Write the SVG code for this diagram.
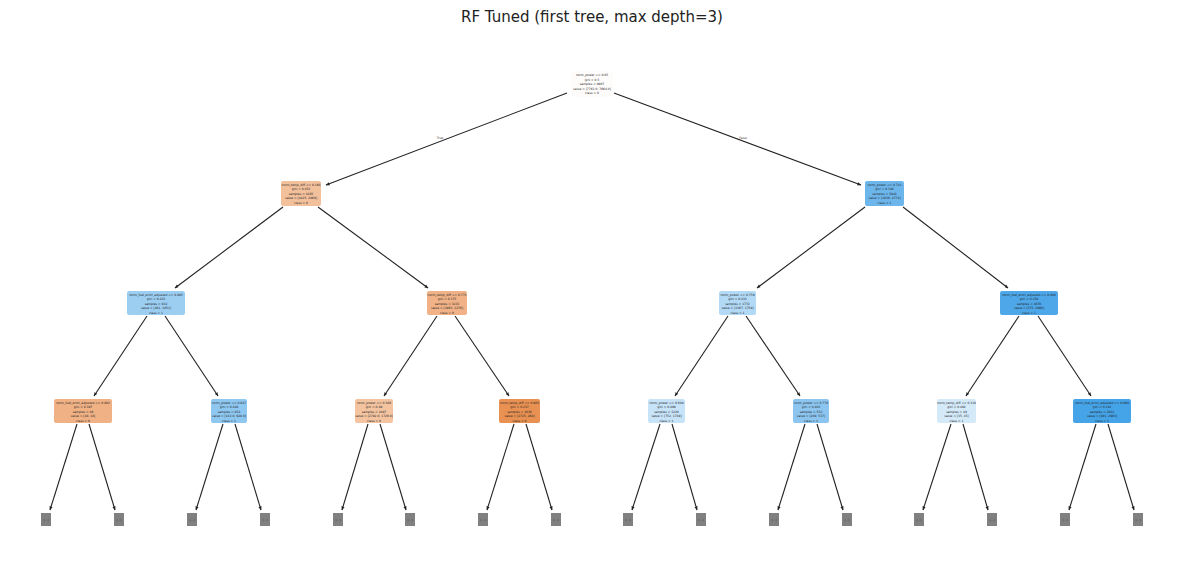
<svg xmlns="http://www.w3.org/2000/svg" width="1184" height="584" viewBox="0 0 1184 584">
<defs>
<marker id="ah" viewBox="0 0 10 10" refX="9" refY="5" markerWidth="4" markerHeight="4" orient="auto" markerUnits="userSpaceOnUse"><path d="M0,1 L10,5 L0,9 z" fill="#222"/></marker>
</defs>
<style>
.t{font-family:"DejaVu Sans",sans-serif;font-size:3px;fill:#222;text-anchor:middle}
.title{font-family:"DejaVu Sans",sans-serif;font-size:15px;fill:#222;text-anchor:middle}
.e{stroke:#222;stroke-width:1.1;fill:none;marker-end:url(#ah)}
.el{font-family:"DejaVu Sans",sans-serif;font-size:3px;fill:#333;text-anchor:middle}
.leaf{fill:#808080}
.lt{font-family:"DejaVu Sans",sans-serif;font-size:3px;fill:#222;text-anchor:middle}
</style>
<rect width="1184" height="584" fill="#fff"/>
<text class="title" x="592" y="22">RF Tuned (first tree, max depth=3)</text>
<g id="connectors">
<path class="e" d="M567,93 L326,185"/>
<path class="e" d="M614,93 L861,185"/>
<path class="e" d="M283,207 L175,288"/>
<path class="e" d="M318,207 L428,288"/>
<path class="e" d="M865,207 L757,288"/>
<path class="e" d="M903,207 L1008,288"/>
<path class="e" d="M147,316 L94,396"/>
<path class="e" d="M165,316 L218,396"/>
<path class="e" d="M437,316 L384,396"/>
<path class="e" d="M455,316 L509,396"/>
<path class="e" d="M728,316 L675,396"/>
<path class="e" d="M746,316 L800,396"/>
<path class="e" d="M1019,316 L966,396"/>
<path class="e" d="M1038,316 L1091,396"/>
<path class="e" d="M77,424 L50,510"/><path class="e" d="M89,424 L115,510"/>
<path class="e" d="M223,424 L196,510"/><path class="e" d="M235,424 L261,510"/>
<path class="e" d="M368,424 L342,510"/><path class="e" d="M380,424 L406,510"/>
<path class="e" d="M514,424 L487,510"/><path class="e" d="M526,424 L552,510"/>
<path class="e" d="M660,424 L632,510"/><path class="e" d="M672,424 L697,510"/>
<path class="e" d="M805,424 L778,510"/><path class="e" d="M817,424 L843,510"/>
<path class="e" d="M951,424 L923,510"/><path class="e" d="M963,424 L988,510"/>
<path class="e" d="M1096,424 L1069,510"/><path class="e" d="M1108,424 L1134,510"/>
<text class="el" x="440" y="139">True</text>
<text class="el" x="743" y="139">False</text>
</g>
<g id="n0"><rect x="571" y="71" width="42" height="26" rx="2" fill="#fefcfb"/>
<text class="t" x="592" y="76">norm_power &lt;= 0.05</text><text class="t" x="592" y="80.5">gini = 0.5</text><text class="t" x="592" y="85">samples = 9907</text><text class="t" x="592" y="89.5">value = [7763.0, 7664.0]</text><text class="t" x="592" y="94">class = 0</text></g>
<g id="n1"><rect x="281" y="181" width="40" height="25" rx="2" fill="#f3c09c"/>
<text class="t" x="301" y="185.5">norm_temp_diff &lt;= 0.160</text><text class="t" x="301" y="190">gini = 0.452</text><text class="t" x="301" y="194.5">samples = 4165</text><text class="t" x="301" y="199">value = [4425, 2869]</text><text class="t" x="301" y="203.5">class = 0</text></g>
<g id="n2"><rect x="865" y="181" width="39" height="25" rx="2" fill="#6db6ec"/>
<text class="t" x="884.5" y="185.5">norm_power &lt;= 0.741</text><text class="t" x="884.5" y="190">gini = 0.346</text><text class="t" x="884.5" y="194.5">samples = 5842</text><text class="t" x="884.5" y="199">value = [1936, 4774]</text><text class="t" x="884.5" y="203.5">class = 1</text></g>
<g id="n3"><rect x="127" y="291" width="58" height="24" rx="2" fill="#9ccef2"/>
<text class="t" x="156" y="295.5">norm_fuel_error_adjusted &lt;= 0.085</text><text class="t" x="156" y="300">gini = 0.423</text><text class="t" x="156" y="304.5">samples = 932</text><text class="t" x="156" y="309">value = [461, 1051]</text><text class="t" x="156" y="313.5">class = 1</text></g>
<g id="n4"><rect x="427" y="291" width="40" height="24" rx="2" fill="#f0b286"/>
<text class="t" x="447" y="295.5">norm_temp_diff &lt;= 0.771</text><text class="t" x="447" y="300">gini = 0.375</text><text class="t" x="447" y="304.5">samples = 3233</text><text class="t" x="447" y="309">value = [3963, 1276]</text><text class="t" x="447" y="313.5">class = 0</text></g>
<g id="n5"><rect x="719" y="291" width="37" height="24" rx="2" fill="#b2d9f5"/>
<text class="t" x="737.5" y="295.5">norm_power &lt;= 0.759</text><text class="t" x="737.5" y="300">gini = 0.433</text><text class="t" x="737.5" y="304.5">samples = 1772</text><text class="t" x="737.5" y="309">value = [1367, 1759]</text><text class="t" x="737.5" y="313.5">class = 1</text></g>
<g id="n6"><rect x="1000" y="291" width="58" height="24" rx="2" fill="#4ea7e8"/>
<text class="t" x="1029" y="295.5">norm_fuel_error_adjusted &lt;= 0.006</text><text class="t" x="1029" y="300">gini = 0.158</text><text class="t" x="1029" y="304.5">samples = 4070</text><text class="t" x="1029" y="309">value = [575, 2996]</text><text class="t" x="1029" y="313.5">class = 1</text></g>
<g id="n7"><rect x="54" y="399" width="58" height="24" rx="2" fill="#f0b185"/>
<text class="t" x="83" y="403.5">norm_fuel_error_adjusted &lt;= 0.002</text><text class="t" x="83" y="408">gini = 0.397</text><text class="t" x="83" y="412.5">samples = 46</text><text class="t" x="83" y="417">value = [48, 18]</text><text class="t" x="83" y="421.5">class = 0</text></g>
<g id="n8"><rect x="211" y="399" width="36" height="24" rx="2" fill="#8ec7f0"/>
<text class="t" x="229" y="403.5">norm_power &lt;= 0.047</text><text class="t" x="229" y="408">gini = 0.428</text><text class="t" x="229" y="412.5">samples = 852</text><text class="t" x="229" y="417">value = [413.0, 928.0]</text><text class="t" x="229" y="421.5">class = 1</text></g>
<g id="n9"><rect x="355" y="399" width="38" height="24" rx="2" fill="#f4c4a1"/>
<text class="t" x="374" y="403.5">norm_power &lt;= 0.306</text><text class="t" x="374" y="408">gini = 0.49</text><text class="t" x="374" y="412.5">samples = 2497</text><text class="t" x="374" y="417">value = [2782.0, 1726.0]</text><text class="t" x="374" y="421.5">class = 0</text></g>
<g id="n10"><rect x="499" y="399" width="41" height="24" rx="2" fill="#e89152"/>
<text class="t" x="519.5" y="403.5">norm_temp_diff &lt;= 0.903</text><text class="t" x="519.5" y="408">gini = 0.237</text><text class="t" x="519.5" y="412.5">samples = 1036</text><text class="t" x="519.5" y="417">value = [2725, 268]</text><text class="t" x="519.5" y="421.5">class = 0</text></g>
<g id="n11"><rect x="648" y="399" width="37" height="24" rx="2" fill="#c7e3f8"/>
<text class="t" x="666.5" y="403.5">norm_power &lt;= 0.608</text><text class="t" x="666.5" y="408">gini = 0.499</text><text class="t" x="666.5" y="412.5">samples = 1220</text><text class="t" x="666.5" y="417">value = [752, 1749]</text><text class="t" x="666.5" y="421.5">class = 1</text></g>
<g id="n12"><rect x="793" y="399" width="36" height="24" rx="2" fill="#8cc6f0"/>
<text class="t" x="811" y="403.5">norm_power &lt;= 0.776</text><text class="t" x="811" y="408">gini = 0.403</text><text class="t" x="811" y="412.5">samples = 552</text><text class="t" x="811" y="417">value = [209, 537]</text><text class="t" x="811" y="421.5">class = 1</text></g>
<g id="n13"><rect x="937" y="399" width="39" height="24" rx="2" fill="#d5eaf9"/>
<text class="t" x="956.5" y="403.5">norm_temp_diff &lt;= 0.310</text><text class="t" x="956.5" y="408">gini = 0.492</text><text class="t" x="956.5" y="412.5">samples = 49</text><text class="t" x="956.5" y="417">value = [35, 45]</text><text class="t" x="956.5" y="421.5">class = 1</text></g>
<g id="n14"><rect x="1073" y="399" width="58" height="24" rx="2" fill="#45a3e7"/>
<text class="t" x="1102" y="403.5">norm_fuel_error_adjusted &lt;= 0.009</text><text class="t" x="1102" y="408">gini = 0.142</text><text class="t" x="1102" y="412.5">samples = 2021</text><text class="t" x="1102" y="417">value = [401, 2903]</text><text class="t" x="1102" y="421.5">class = 1</text></g>
<g id="leaves">
<g id="l1"><rect class="leaf" x="41" y="513" width="10" height="13"/><text class="lt" x="46" y="521">(...)</text></g>
<g id="l2"><rect class="leaf" x="114" y="513" width="10" height="13"/><text class="lt" x="119" y="521">(...)</text></g>
<g id="l3"><rect class="leaf" x="187" y="513" width="10" height="13"/><text class="lt" x="192" y="521">(...)</text></g>
<g id="l4"><rect class="leaf" x="260" y="513" width="10" height="13"/><text class="lt" x="265" y="521">(...)</text></g>
<g id="l5"><rect class="leaf" x="333" y="513" width="10" height="13"/><text class="lt" x="338" y="521">(...)</text></g>
<g id="l6"><rect class="leaf" x="405" y="513" width="10" height="13"/><text class="lt" x="410" y="521">(...)</text></g>
<g id="l7"><rect class="leaf" x="478" y="513" width="10" height="13"/><text class="lt" x="483" y="521">(...)</text></g>
<g id="l8"><rect class="leaf" x="551" y="513" width="10" height="13"/><text class="lt" x="556" y="521">(...)</text></g>
<g id="l9"><rect class="leaf" x="623" y="513" width="10" height="13"/><text class="lt" x="628" y="521">(...)</text></g>
<g id="l10"><rect class="leaf" x="696" y="513" width="10" height="13"/><text class="lt" x="701" y="521">(...)</text></g>
<g id="l11"><rect class="leaf" x="769" y="513" width="10" height="13"/><text class="lt" x="774" y="521">(...)</text></g>
<g id="l12"><rect class="leaf" x="842" y="513" width="10" height="13"/><text class="lt" x="847" y="521">(...)</text></g>
<g id="l13"><rect class="leaf" x="914" y="513" width="10" height="13"/><text class="lt" x="919" y="521">(...)</text></g>
<g id="l14"><rect class="leaf" x="987" y="513" width="10" height="13"/><text class="lt" x="992" y="521">(...)</text></g>
<g id="l15"><rect class="leaf" x="1060" y="513" width="10" height="13"/><text class="lt" x="1065" y="521">(...)</text></g>
<g id="l16"><rect class="leaf" x="1133" y="513" width="10" height="13"/><text class="lt" x="1138" y="521">(...)</text></g>
</g>
</svg>
